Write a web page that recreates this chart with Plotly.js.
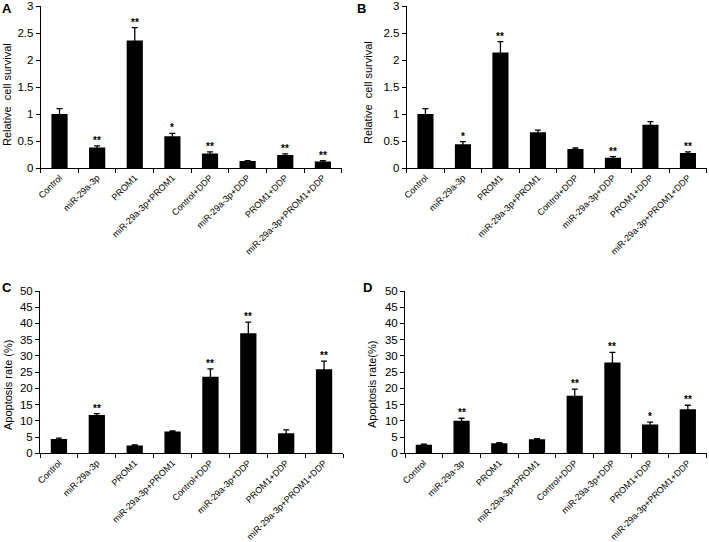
<!DOCTYPE html>
<html>
<head>
<meta charset="utf-8">
<script src="https://cdn.plot.ly/plotly-3.0.1.min.js"></script>
<style>html,body{margin:0;padding:0;background:#fff;}#chart{width:709px;height:542px;}</style>
</head>
<body>
<div id="chart"></div>
<script>
const categories = ['Control','miR-29a-3p','PROM1','miR-29a-3p+PROM1','Control+DDP','miR-29a-3p+DDP','PROM1+DDP','miR-29a-3p+PROM1+DDP'];

const survivalA = [1.00, 0.38, 2.36, 0.59, 0.27, 0.13, 0.24, 0.12];
const errA      = [0.10, 0.03, 0.24, 0.05, 0.03, 0.005, 0.02, 0.015];
const sigA      = ['', '**', '**', '*', '**', '', '**', '**'];

const survivalB = [1.00, 0.44, 2.14, 0.66, 0.35, 0.19, 0.80, 0.28];
const errB      = [0.10, 0.05, 0.20, 0.04, 0.02, 0.02, 0.06, 0.02];
const sigB      = ['', '*', '**', '', '', '**', '', '**'];

const apoptosisC = [4.4, 11.8, 2.4, 6.7, 23.6, 37.0, 6.2, 25.9];
const errC       = [0.3, 0.4, 0.2, 0.2, 2.4, 3.4, 1.0, 2.5];
const sigC       = ['', '**', '', '', '**', '**', '', '**'];

const apoptosisD = [2.6, 10.0, 3.1, 4.3, 17.7, 28.0, 8.9, 13.6];
const errD       = [0.2, 0.8, 0.2, 0.2, 2.1, 3.1, 0.7, 1.2];
const sigD       = ['', '**', '', '', '**', '**', '*', '**'];

const panels = [
  {vals: survivalA, err: errA, sig: sigA, ax: ''},
  {vals: survivalB, err: errB, sig: sigB, ax: '2'},
  {vals: apoptosisC, err: errC, sig: sigC, ax: '3'},
  {vals: apoptosisD, err: errD, sig: sigD, ax: '4'}
];

const FONT = 'Liberation Sans, Arial, sans-serif';
const W = 709, H = 542;
const px = v => v / W;
const py = v => 1 - v / H;

const traces = panels.map(p => ({
  type: 'bar',
  x: categories,
  y: p.vals,
  xaxis: 'x' + p.ax,
  yaxis: 'y' + p.ax,
  marker: {color: '#000', line: {width: 0}},
  error_y: {type: 'data', array: p.err, symmetric: true, color: '#000', thickness: 1.3, width: 3},
  hoverinfo: 'skip'
}));

const annotations = [];
panels.forEach(p => {
  p.sig.forEach((s, i) => {
    if (!s) return;
    annotations.push({
      xref: 'x' + p.ax, yref: 'y' + p.ax,
      x: categories[i], y: p.vals[i] + p.err[i],
      text: '<b>' + s + '</b>', showarrow: false, yanchor: 'bottom', yshift: -2,
      font: {family: FONT, size: 10, color: '#000000'}
    });
  });
});

// panel letters
[['A', 7.5, 8], ['B', 361, 8], ['C', 6.5, 287], ['D', 367.5, 287]].forEach(([t, x, y]) => {
  annotations.push({xref: 'paper', yref: 'paper', x: px(x), y: py(y), text: '<b>' + t + '</b>',
    showarrow: false, xanchor: 'center', yanchor: 'middle', font: {family: FONT, size: 13, color: '#000'}});
});
// y titles
[['Relative  cell survival', 7, 95], ['Relative  cell survival', 368, 93], ['Apoptosis rate (%)', 8, 385], ['Apoptosis rate(%)', 372, 385]].forEach(([t, x, y]) => {
  annotations.push({xref: 'paper', yref: 'paper', x: px(x), y: py(y), text: t, textangle: -90,
    showarrow: false, xanchor: 'center', yanchor: 'middle', font: {family: FONT, size: 11, color: '#000'}});
});

function xax(domain, anchor) {
  return {domain: domain, anchor: anchor, type: 'category', range: [-0.5, 7.5],
    showline: true, linecolor: '#000', linewidth: 1, ticks: 'outside', tickson: 'boundaries',
    ticklen: 4, tickcolor: '#000', tickangle: -45, showgrid: false, zeroline: false,
    tickfont: {family: FONT, size: 9, color: '#000'}, fixedrange: true};
}
function yax(domain, anchor, range, dtick) {
  return {domain: domain, anchor: anchor, range: range, dtick: dtick, tick0: 0,
    showline: true, linecolor: '#000', linewidth: 1, ticks: 'outside', ticklen: 4, tickcolor: '#000',
    showgrid: false, zeroline: false, tickfont: {family: FONT, size: 11.5, color: '#000'}, fixedrange: true};
}

const topY = [py(168), py(6)];
const botY = [py(453.3), py(291)];

const layout = {
  width: W, height: H,
  margin: {l: 0, r: 0, t: 0, b: 0},
  paper_bgcolor: '#fff', plot_bgcolor: '#fff',
  showlegend: false,
  bargap: 0.57,
  font: {family: FONT, color: '#000'},
  xaxis: xax([px(40.7), px(341.7)], 'y'),
  yaxis: yax(topY, 'x', [0, 3], 0.5),
  xaxis2: xax([px(406.7), px(706.7)], 'y2'),
  yaxis2: yax(topY, 'x2', [0, 3], 0.5),
  xaxis3: xax([px(40), px(343)], 'y3'),
  yaxis3: yax(botY, 'x3', [0, 50], 5),
  xaxis4: xax([px(405), px(706.7)], 'y4'),
  yaxis4: yax(botY, 'x4', [0, 50], 5),
  annotations: annotations
};

Plotly.newPlot('chart', traces, layout, {staticPlot: true, displayModeBar: false});
</script>
</body>
</html>
